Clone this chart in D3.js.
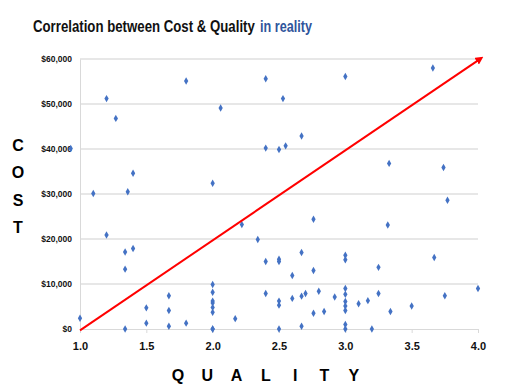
<!DOCTYPE html>
<html lang="en">
<head>
<meta charset="utf-8">
<title>Cost vs Quality</title>
<script src="https://cdnjs.cloudflare.com/ajax/libs/d3/7.8.5/d3.min.js"></script>
<style>
body { margin: 0; background: #fff; }
text { font-family: "Liberation Sans", Arial, sans-serif; }
</style>
</head>
<body>
<script>

// quality score (x) and cost (y) of each point
var quality = [0.93, 1.0, 1.1, 1.2, 1.2, 1.27, 1.34, 1.34, 1.34, 1.36, 1.4, 1.4,
	1.5, 1.5, 1.67, 1.67, 1.67, 1.8, 1.8, 2.0, 2.0, 2.0, 2.0, 2.0, 2.0, 2.0, 2.0, 2.0,
	2.06, 2.17, 2.22, 2.34, 2.4, 2.4, 2.4, 2.4, 2.5, 2.5, 2.5, 2.5, 2.5, 2.5, 2.53,
	2.55, 2.6, 2.6, 2.67, 2.67, 2.67, 2.67, 2.7, 2.76, 2.76, 2.76, 2.8, 2.84, 2.92,
	3.0, 3.0, 3.0, 3.0, 3.0, 3.0, 3.0, 3.0, 3.0, 3.0, 3.1, 3.17, 3.2, 3.25, 3.25,
	3.32, 3.33, 3.34, 3.5, 3.66, 3.67, 3.74, 3.75, 3.77, 4.0];
var cost = [40100, 2400, 30100, 51200, 20900, 46800, 17100, 13300, 0, 30500, 34600, 17900,
	4700, 1300, 7400, 4100, 600, 55100, 1300, 32400, 9900, 8150, 6200, 5800, 4800, 3700, 0, 0,
	49100, 2300, 23200, 19900, 55600, 40200, 15000, 7900, 39900, 15500, 15000, 6200, 5300, 0, 51200,
	40700, 11900, 6800, 42900, 17000, 7300, 600, 7900, 24400, 13000, 3500, 8400, 3900, 7100,
	56100, 16400, 15400, 9000, 7700, 6100, 5100, 4100, 1000, 0, 5600, 6300, 0, 13700, 7900,
	23100, 36800, 3900, 5100, 58000, 15900, 35900, 7400, 28600, 9000];

var xTicks = [1.0, 1.5, 2.0, 2.5, 3.0, 3.5, 4.0];
var yTicks = [0, 10000, 20000, 30000, 40000, 50000, 60000];
var trend = [[1.0, -300], [4.02, 60100]];

var width = 517, height = 388;
var svg = d3.select("body").append("svg")
	.attr("width", width)
	.attr("height", height);

var x = d3.scaleLinear().domain([1, 4]).range([80, 478]);
var y = d3.scaleLinear().domain([0, 60000]).range([329, 59]);

// title, two pieces; squeezed sideways to look condensed
function titlePart(str, x0, w, color){
	var t = svg.append("text")
		.attr("font-size", 17)
		.attr("font-weight", "bold")
		.attr("fill", color)
		.text(str);
	var len = t.node().getComputedTextLength();
	t.attr("transform", "translate(" + x0 + ",32) scale(" + (w / len) + ",1)");
}
titlePart("Correlation between Cost & Quality", 33, 222, "#111");
titlePart("in reality", 260, 52, "#2f559c");

// grid
svg.append("g")
	.selectAll("line")
	.data(yTicks.slice(1))
	.enter()
	.append("line")
	.attr("x1", x(1))
	.attr("x2", x(4))
	.attr("y1", function(d){ return y(d); })
	.attr("y2", function(d){ return y(d); })
	.style("stroke", "#cfcfcf")
	.style("stroke-width", 1);

// x axis
var xAxis = svg.append("g")
	.attr("transform", "translate(0," + y(0) + ")")
	.call(d3.axisBottom(x).tickValues(xTicks).tickSize(4).tickPadding(9)
		.tickFormat(d3.format(".1f")));
xAxis.select(".domain").style("stroke", "#d9d9d9");
xAxis.selectAll(".tick line").style("stroke", "#d9d9d9");
xAxis.selectAll("text")
	.attr("font-size", 11)
	.attr("font-weight", "bold")
	.attr("fill", "#111")
	.style("font-family", "'Liberation Sans', sans-serif");

// y axis
var yAxis = svg.append("g")
	.attr("transform", "translate(" + x(1) + ",0)")
	.call(d3.axisLeft(y).tickValues(yTicks).tickSize(0).tickPadding(8)
		.tickFormat(function(d){ return "$" + d3.format(",")(d); }));
yAxis.select(".domain").style("stroke", "#d9d9d9");
yAxis.selectAll("text")
	.attr("font-size", 8.5)
	.attr("font-weight", "bold")
	.attr("fill", "#111")
	.style("font-family", "'Liberation Sans', sans-serif");

// axis titles, spaced letters
svg.append("g")
	.selectAll("text")
	.data("COST".split(""))
	.enter()
	.append("text")
	.attr("x", 18)
	.attr("y", function(d, i){ return 151 + i * 27.3; })
	.attr("text-anchor", "middle")
	.attr("font-size", 16)
	.attr("font-weight", "bold")
	.text(function(d){ return d; });

svg.append("g")
	.selectAll("text")
	.data("QUALITY".split(""))
	.enter()
	.append("text")
	.attr("x", function(d, i){ return 178 + i * 29.3; })
	.attr("y", 381)
	.attr("text-anchor", "middle")
	.attr("font-size", 16)
	.attr("font-weight", "bold")
	.text(function(d){ return d; });

// points
var pts = quality.map(function(q, i){ return {q: q, c: cost[i]}; });
svg.append("g")
	.selectAll("path")
	.data(pts)
	.enter()
	.append("path")
	.attr("d", d3.symbol().type(d3.symbolDiamond).size(16))
	.attr("transform", function(d){ return "translate(" + x(d.q) + "," + y(d.c) + ")"; })
	.style("fill", "#4472c4");

// trend arrow
svg.append("defs").append("marker")
	.attr("id", "arrow")
	.attr("viewBox", "0 0 10 10")
	.attr("refX", 6)
	.attr("refY", 5)
	.attr("markerWidth", 4)
	.attr("markerHeight", 4)
	.attr("orient", "auto")
	.append("path")
	.attr("d", "M0,0 L10,5 L0,10 z")
	.style("fill", "#ff0000");

svg.append("path")
	.datum(trend)
	.attr("d", d3.line()
		.x(function(d){ return x(d[0]); })
		.y(function(d){ return y(d[1]); }))
	.style("fill", "none")
	.style("stroke", "#ff0000")
	.style("stroke-width", 2)
	.attr("marker-end", "url(#arrow)");

</script>
</body>
</html>
